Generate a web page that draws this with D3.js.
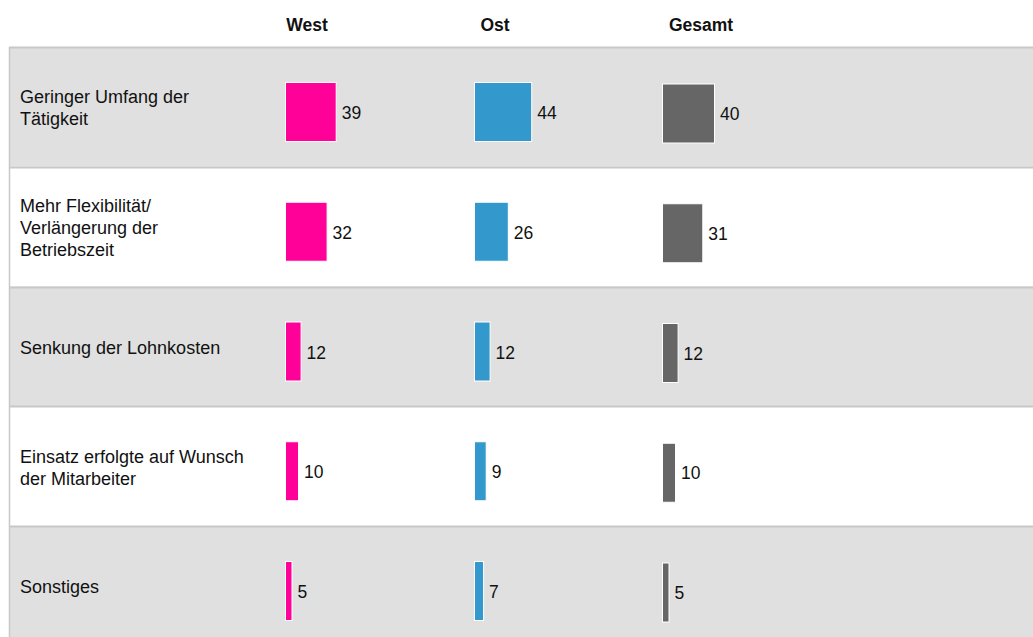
<!DOCTYPE html>
<html lang="de">
<head>
<meta charset="utf-8">
<title>Gründe für den Einsatz</title>
<script src="https://cdn.jsdelivr.net/npm/d3@7"></script>
<style>
    body { margin: 0; background: #fff; }
    svg { display: block; font-family: "Liberation Sans", Arial, sans-serif; }
</style>
</head>
<body>
<div id="viz"></div>
<script>

    // data
    var categories = [
        ["Geringer Umfang der", "Tätigkeit"],
        ["Mehr Flexibilität/", "Verlängerung der", "Betriebszeit"],
        ["Senkung der Lohnkosten"],
        ["Einsatz erfolgte auf Wunsch", "der Mitarbeiter"],
        ["Sonstiges"]
    ];
    var series = ["West", "Ost", "Gesamt"];
    var west = [39, 32, 12, 10, 5];
    var ost = [44, 26, 12, 9, 7];
    var gesamt = [40, 31, 12, 10, 5];
    var colors = ["#ff0099", "#3399cc", "#666666"];

    var width = 1033, height = 637;
    var values = [west, ost, gesamt];

    var svg = d3.select("#viz").append("svg")
        .attr("width", width)
        .attr("height", height);

    var rowIds = d3.range(categories.length);
    var y = d3.scaleBand().domain(rowIds).range([47, 47 + 119.75 * categories.length]);
    var colX = d3.scaleOrdinal().domain(series).range([285, 474, 662]);
    var headX = d3.scaleOrdinal().domain(series).range([307, 495, 701]);
    var w = d3.scaleLinear().domain([0, 44]).range([0, 57.2]);
    var color = d3.scaleOrdinal().domain(series).range(colors);

    // row backgrounds
    svg.selectAll("rect.row")
        .data(rowIds)
        .enter()
        .append("rect")
        .attr("class", "row")
        .attr("x", 9)
        .attr("y", d => y(d))
        .attr("width", width)
        .attr("height", y.bandwidth())
        .style("fill", d => d % 2 == 0 ? "#e0e0e0" : "#ffffff");

    // separators
    svg.selectAll("line.sep")
        .data(rowIds)
        .enter()
        .append("line")
        .attr("x1", 9).attr("x2", width)
        .attr("y1", d => Math.round(y(d)) + 0.5)
        .attr("y2", d => Math.round(y(d)) + 0.5)
        .style("stroke", "#c8c8c8")
        .style("stroke-width", 2);

    svg.append("line")
        .attr("x1", 9.5).attr("x2", 9.5)
        .attr("y1", y(0)).attr("y2", height)
        .style("stroke", "#c8c8c8")
        .style("stroke-width", 1.5);

    // column headers
    svg.selectAll("text.head")
        .data(series)
        .enter()
        .append("text")
        .attr("x", d => headX(d))
        .attr("y", 31)
        .attr("text-anchor", "middle")
        .style("font-weight", "bold")
        .style("font-size", "17.5px")
        .style("fill", "#111")
        .text(d => d);

    // category labels
    var lab = svg.selectAll("text.cat")
        .data(categories)
        .enter()
        .append("text")
        .attr("class", "cat")
        .attr("x", 20)
        .style("font-size", "18px")
        .style("fill", "#111");

    lab.each(function (lines, i) {
        var mid = y(i) + y.bandwidth() / 2 + 1;
        var lh = 22;
        var top = mid - (lines.length - 1) * lh / 2 + 6.5;
        d3.select(this).selectAll("tspan")
            .data(lines)
            .enter()
            .append("tspan")
            .attr("x", 20)
            .attr("y", (d, k) => top + k * lh)
            .text(d => d);
    });

    // bars + values
    var cells = [];
    series.forEach(function (s, j) {
        values[j].forEach(function (v, i) {
            cells.push({s: s, row: i, v: v, j: j});
        });
    });

    svg.selectAll("rect.bar")
        .data(cells)
        .enter()
        .append("rect")
        .attr("class", "bar")
        .attr("x", d => colX(d.s) + 0.5)
        .attr("y", d => y(d.row) + 35.5 + (d.j == 2 ? 1.5 : 0))
        .attr("width", d => w(d.v))
        .attr("height", 59)
        .style("fill", d => color(d.s))
        .style("stroke", "#ffffff")
        .style("stroke-width", 1);

    svg.selectAll("text.val")
        .data(cells)
        .enter()
        .append("text")
        .attr("class", "val")
        .attr("x", d => colX(d.s) + w(d.v) + 6)
        .attr("y", d => y(d.row) + 72 + (d.j == 2 ? 1 : 0))
        .style("font-size", "17.5px")
        .style("fill", "#111")
        .text(d => d.v);

</script>
</body>
</html>
